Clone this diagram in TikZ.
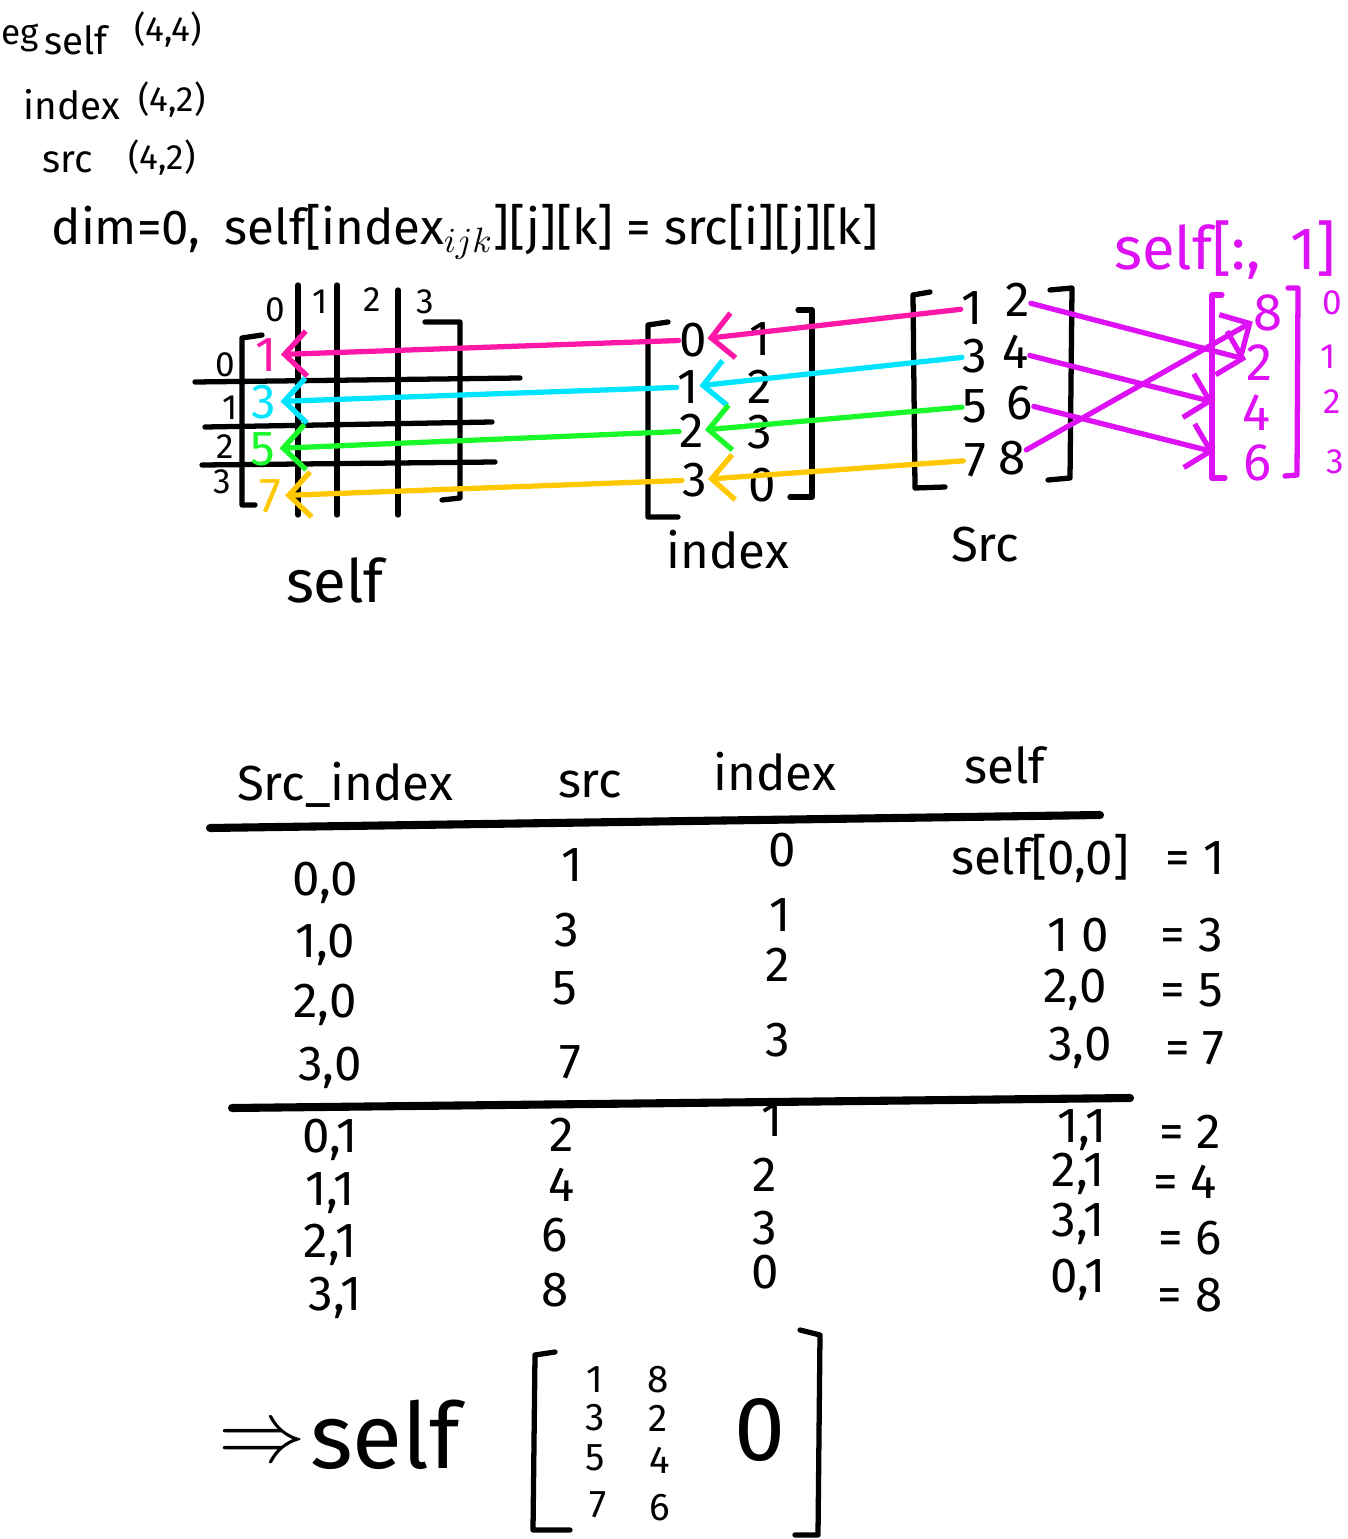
\documentclass[tikz,border=0pt]{standalone}
\usepackage{fontspec}
\setmainfont{Fira Sans}
\usepackage{tikz}
\usetikzlibrary{positioning,calc}
\usetikzlibrary{arrows.meta}
\definecolor{hotpink}{RGB}{255,23,168}
\definecolor{skyblue}{RGB}{0,229,255}
\definecolor{limegreen}{RGB}{26,250,42}
\definecolor{golden}{RGB}{255,200,0}
\definecolor{purplemag}{RGB}{222,16,245}
\tikzstyle{hand} = [font=\fontsize{14}{16}\selectfont, inner sep=1pt]
\tikzstyle{cell} = [font=\fontsize{14}{16}\selectfont, inner sep=0pt]
\tikzstyle{magcell} = [font=\fontsize{15}{17}\selectfont, inner sep=0pt, text=purplemag]
\tikzstyle{smalltxt} = [font=\fontsize{11}{13}\selectfont, inner sep=1pt]
\tikzstyle{tinytxt} = [font=\fontsize{10}{12}\selectfont, inner sep=1pt]
\tikzstyle{bigtxt} = [font=\fontsize{17}{19}\selectfont, inner sep=1pt]
\tikzstyle{hugetxt} = [font=\fontsize{26}{28}\selectfont, inner sep=1pt]
\tikzstyle{pen} = [line width=1.5pt, line cap=round, line join=round]
\tikzstyle{rulepen} = [line width=2.3pt, line cap=round]
\tikzstyle{colarrow} = [line width=1.5pt, line cap=round, -{Straight Barb[length=2.2mm,width=4.5mm]}]

\begin{document}
\begin{tikzpicture}
\useasboundingbox (0,0) rectangle (13.47,-15.39);
% shapes
\node (eg) at (0.20,-0.38) [tinytxt] {eg};
\node (self0) at (0.76,-0.40) [smalltxt] {self};
\node (selfsz) at (1.68,-0.30) [tinytxt] {(4,4)};
\node (idx0) at (0.72,-1.05) [smalltxt] {index};
\node (idxsz) at (1.72,-1.00) [tinytxt] {(4,2)};
\node (src0) at (0.68,-1.62) [smalltxt] {src};
\node (srcsz) at (1.62,-1.58) [tinytxt] {(4,2)};
\node (dimrule) at (4.65,-2.32) [hand] {dim=0,\enspace self[index$_{ijk}$][j][k] = src[i][j][k]};

% self grid
\node (c0) at (2.75,-3.10) [tinytxt] {0};
\node (c1) at (3.20,-3.02) [tinytxt] {1};
\node (c2) at (3.72,-3.00) [tinytxt] {2};
\node (c3) at (4.25,-3.02) [tinytxt] {3};
\draw[pen] (2.98,-2.85) -- (2.98,-5.15);
\draw[pen] (3.37,-2.85) -- (3.37,-5.15);
\draw[pen] (3.98,-2.90) -- (3.98,-5.15);
\draw[pen] (1.95,-3.82) -- (5.20,-3.78);
\draw[pen] (2.05,-4.27) -- (4.92,-4.22);
\draw[pen] (2.02,-4.65) -- (4.95,-4.62);
\draw[pen] (2.62,-3.35) -- (2.42,-3.38) -- (2.42,-5.05) -- (2.55,-5.05);
\draw[pen] (4.25,-3.22) -- (4.60,-3.22) -- (4.60,-4.98) -- (4.42,-5.00);
\node (r0) at (2.25,-3.65) [tinytxt] {0};
\node (r1) at (2.30,-4.08) [tinytxt] {1};
\node (r2) at (2.25,-4.47) [tinytxt] {2};
\node (r3) at (2.22,-4.82) [tinytxt] {3};
\node (g0) at (2.66,-3.55) [hand, text=hotpink] {1};
\node (g1) at (2.64,-4.02) [hand, text=skyblue] {3};
\node (g2) at (2.63,-4.49) [hand, text=limegreen] {5};
\node (g3) at (2.70,-4.96) [hand, text=golden] {7};
\node (selflbl) at (3.35,-5.80) [bigtxt] {self};

% index
\draw[pen] (6.68,-3.22) -- (6.48,-3.25) -- (6.48,-5.17) -- (6.78,-5.17);
\draw[pen] (7.98,-3.10) -- (8.12,-3.10) -- (8.12,-4.97) -- (7.90,-4.97);
\node (i00) at (6.93,-3.40) [cell] {0};
\node (i01) at (7.60,-3.39) [cell] {1};
\node (i10) at (6.88,-3.87) [cell] {1};
\node (i11) at (7.60,-3.87) [cell] {2};
\node (i20) at (6.92,-4.31) [cell] {2};
\node (i21) at (7.60,-4.32) [cell] {3};
\node (i30) at (6.95,-4.80) [cell] {3};
\node (i31) at (7.62,-4.85) [cell] {0};
\node (idxlbl) at (7.28,-5.50) [hand] {index};

% src
\draw[pen] (9.30,-2.92) -- (9.13,-2.95) -- (9.15,-4.88) -- (9.45,-4.87);
\draw[pen] (10.50,-2.90) -- (10.72,-2.88) -- (10.70,-4.78) -- (10.48,-4.80);
\node (s00) at (9.72,-3.08) [cell] {1};
\node (s01) at (10.18,-3.00) [cell] {2};
\node (s10) at (9.75,-3.56) [cell] {3};
\node (s11) at (10.16,-3.52) [cell] {4};
\node (s20) at (9.75,-4.06) [cell] {5};
\node (s21) at (10.20,-4.03) [cell] {6};
\node (s30) at (9.75,-4.60) [cell] {7};
\node (s31) at (10.12,-4.58) [cell] {8};
\node (srclbl) at (9.85,-5.45) [hand] {Src};

\draw[colarrow, hotpink] (s00) -- (i00);
\draw[colarrow, skyblue] (s10) -- (i10);
\draw[colarrow, limegreen] (s20) -- (i20);
\draw[colarrow, golden] (s30) -- (i30);
\draw[colarrow, hotpink] (i00) -- (g0);
\draw[colarrow, skyblue] (i10) -- (g1);
\draw[colarrow, limegreen] (i20) -- (g2);
\draw[colarrow, golden] (i30) -- (g3);

% self[:,1]
\node (selcol) at (12.25,-2.50) [bigtxt, text=purplemag] {self[:,\enspace 1]};
\draw[pen, purplemag] (12.22,-2.95) -- (12.12,-2.95) -- (12.12,-4.78) -- (12.25,-4.78);
\draw[pen, purplemag] (12.88,-2.88) -- (12.98,-2.88) -- (12.97,-4.75) -- (12.85,-4.76);
\node (m0) at (12.68,-3.13) [magcell] {8};
\node (m1) at (12.60,-3.63) [magcell] {2};
\node (m2) at (12.57,-4.13) [magcell] {4};
\node (m3) at (12.58,-4.63) [magcell] {6};
\node (n0) at (13.32,-3.03) [tinytxt, text=purplemag] {0};
\node (n1) at (13.28,-3.57) [tinytxt, text=purplemag] {1};
\node (n2) at (13.32,-4.02) [tinytxt, text=purplemag] {2};
\node (n3) at (13.35,-4.62) [tinytxt, text=purplemag] {3};
\draw[colarrow, purplemag] (s01) -- (m1);
\draw[colarrow, purplemag, shorten >=0.3cm] (s11) -- (m2);
\draw[colarrow, purplemag, shorten >=0.3cm] (s21) -- (m3);
\draw[colarrow, purplemag] (s31) -- (m0);

% table
\node (h1) at (3.45,-7.85) [hand] {Src\_index};
\node (h2) at (5.90,-7.85) [hand] {src};
\node (h3) at (7.75,-7.72) [hand] {index};
\node (h4) at (10.05,-7.65) [hand] {self};
\draw[rulepen] (2.10,-8.28) -- (11.00,-8.15);
\draw[rulepen] (2.32,-11.08) -- (11.30,-10.98);

\node (a0) at (3.25,-8.83) [hand] {0,0};
\node (a1) at (3.25,-9.45) [hand] {1,0};
\node (a2) at (3.25,-10.05) [hand] {2,0};
\node (a3) at (3.30,-10.68) [hand] {3,0};
\node (a4) at (3.30,-11.40) [hand] {0,1};
\node (a5) at (3.30,-11.93) [hand] {1,1};
\node (a6) at (3.30,-12.45) [hand] {2,1};
\node (a7) at (3.35,-12.98) [hand] {3,1};

\node (b0) at (5.72,-8.65) [hand] {1};
\node (b1) at (5.67,-9.30) [hand] {3};
\node (b2) at (5.65,-9.88) [hand] {5};
\node (b3) at (5.70,-10.62) [hand] {7};
\node (b4) at (5.62,-11.35) [hand] {2};
\node (b5) at (5.62,-11.85) [hand] {4};
\node (b6) at (5.55,-12.35) [hand] {6};
\node (b7) at (5.55,-12.90) [hand] {8};

\node (d0) at (7.82,-8.50) [hand] {0};
\node (d1) at (7.80,-9.15) [hand] {1};
\node (d2) at (7.78,-9.65) [hand] {2};
\node (d3) at (7.78,-10.40) [hand] {3};
\node (d4) at (7.72,-11.20) [hand] {1};
\node (d5) at (7.65,-11.75) [hand] {2};
\node (d6) at (7.65,-12.28) [hand] {3};
\node (d7) at (7.65,-12.72) [hand] {0};

\node (e0) at (10.40,-8.58) [hand] {self[0,0]};
\node (v0) at (11.95,-8.58) [hand] {= 1};
\node (e1) at (10.78,-9.35) [hand] {1 0};
\node (v1) at (11.92,-9.35) [hand] {= 3};
\node (e2) at (10.75,-9.90) [hand] {2,0};
\node (v2) at (11.92,-9.90) [hand] {= 5};
\node (e3) at (10.80,-10.48) [hand] {3,0};
\node (v3) at (11.95,-10.48) [hand] {= 7};
\node (e4) at (10.82,-11.30) [hand] {1,1};
\node (v4) at (11.90,-11.32) [hand] {= 2};
\node (e5) at (10.78,-11.74) [hand] {2,1};
\node (v5) at (11.85,-11.82) [hand] {= 4};
\node (e6) at (10.78,-12.24) [hand] {3,1};
\node (v6) at (11.90,-12.38) [hand] {= 6};
\node (e7) at (10.78,-12.80) [hand] {0,1};
\node (v7) at (11.90,-12.95) [hand] {= 8};

% result
\node (imp) at (2.62,-14.45) [hugetxt] {$\Rightarrow$};
\node (selfres) at (3.85,-14.35) [hugetxt] {self};
\draw[pen] (5.55,-13.52) -- (5.35,-13.55) -- (5.33,-15.30) -- (5.70,-15.30);
\draw[pen] (8.00,-13.30) -- (8.20,-13.35) -- (8.18,-15.35) -- (7.95,-15.35);
\node (q00) at (5.95,-13.80) [smalltxt] {1};
\node (q01) at (6.58,-13.80) [smalltxt] {8};
\node (q10) at (5.95,-14.18) [smalltxt] {3};
\node (q11) at (6.58,-14.18) [smalltxt] {2};
\node (q20) at (5.95,-14.58) [smalltxt] {5};
\node (q21) at (6.60,-14.60) [smalltxt] {4};
\node (q30) at (5.98,-15.05) [smalltxt] {7};
\node (q31) at (6.60,-15.08) [smalltxt] {6};
\node (qzero) at (7.60,-14.30) [hugetxt] {0};
\end{tikzpicture}
\end{document}
